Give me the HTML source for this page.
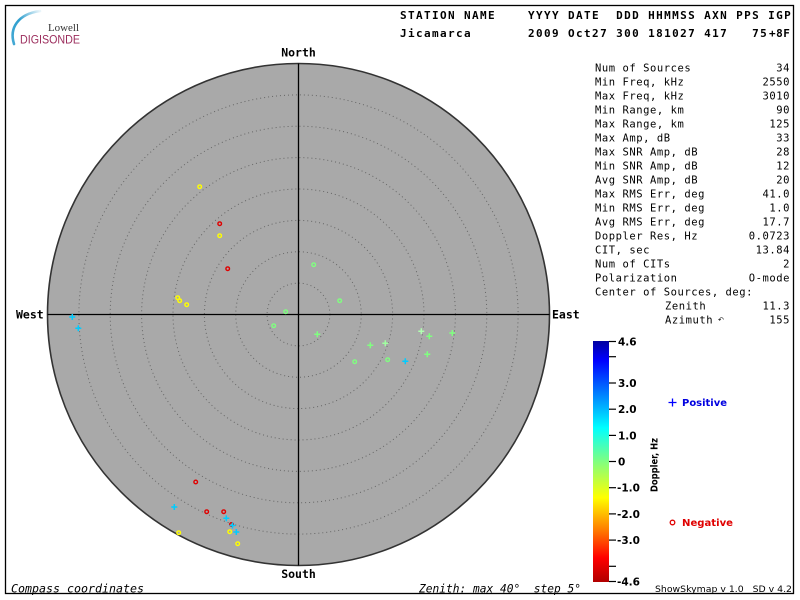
<!DOCTYPE html>
<html>
<head>
<meta charset="utf-8">
<style>
  html,body{margin:0;padding:0;background:#fff;}
  svg{display:block;}
  .hdr{font-family:"DejaVu Sans Mono","Liberation Mono",monospace;font-weight:bold;font-size:11px;letter-spacing:1.38px;fill:#000;}
  .st{font-family:"DejaVu Sans Mono","Liberation Mono",monospace;font-size:10.5px;letter-spacing:0.55px;fill:#000;}
  .cmp{font-family:"DejaVu Sans Mono","Liberation Mono",monospace;font-weight:bold;font-size:11.5px;fill:#000;}
  .it{font-family:"DejaVu Sans Mono","Liberation Mono",monospace;font-style:italic;font-size:11.5px;fill:#000;}
  .tk{font-family:"DejaVu Sans","Liberation Sans",sans-serif;font-weight:bold;font-size:10.5px;fill:#000;}
  .lg{font-family:"DejaVu Sans","Liberation Sans",sans-serif;font-weight:bold;font-size:10px;}
</style>
</head>
<body>
<svg width="800" height="600" viewBox="0 0 800 600" xmlns="http://www.w3.org/2000/svg">
  <defs>
    <linearGradient id="jet" x1="0" y1="0" x2="0" y2="1">
      <stop offset="0" stop-color="#0000a0"/>
      <stop offset="0.08" stop-color="#0000ff"/>
      <stop offset="0.36" stop-color="#00ffff"/>
      <stop offset="0.50" stop-color="#80ff80"/>
      <stop offset="0.65" stop-color="#ffff00"/>
      <stop offset="0.78" stop-color="#ff8000"/>
      <stop offset="0.90" stop-color="#ff0000"/>
      <stop offset="1" stop-color="#b00000"/>
    </linearGradient>
    <linearGradient id="arcg" x1="0" y1="1" x2="1" y2="0">
      <stop offset="0" stop-color="#2f9fcf" stop-opacity="0.9"/>
      <stop offset="0.5" stop-color="#2f9fcf" stop-opacity="1"/>
      <stop offset="1" stop-color="#2f9fcf" stop-opacity="0.1"/>
    </linearGradient>
  </defs>

  <rect x="0" y="0" width="800" height="600" fill="#fff"/>
  <rect x="5.5" y="5.5" width="788" height="588" fill="none" stroke="#000" stroke-width="1.3"/>

  <!-- logo -->
  <path d="M14 44 C 9 28, 18 14, 40 11" fill="none" stroke="url(#arcg)" stroke-width="2.6" stroke-linecap="round"/>
  <text x="48" y="31" font-family="Liberation Serif, serif" font-size="10.5" fill="#333" textLength="31" lengthAdjust="spacingAndGlyphs">Lowell</text>
  <text x="20" y="43.5" font-family="Liberation Sans, sans-serif" font-size="11.5" fill="#9b2c5c" textLength="60" lengthAdjust="spacingAndGlyphs">DIGISONDE</text>

  <!-- header -->
  <text class="hdr" x="400" y="19" xml:space="preserve">STATION NAME    YYYY DATE  DDD HHMMSS AXN PPS IGP</text>
  <text class="hdr" x="400" y="37" xml:space="preserve">Jicamarca       2009 Oct27 300 181027 417   75</text>
  <text class="hdr" x="769" y="37" style="letter-spacing:0.5px">+8F</text>

  <!-- sky map -->
  <circle cx="298.5" cy="314.5" r="251" fill="#a9a9a9" stroke="#333" stroke-width="1.6"/>
  <g fill="none" stroke="#666" stroke-width="1" stroke-dasharray="1 3">
    <circle cx="298.5" cy="314.5" r="31.4"/>
    <circle cx="298.5" cy="314.5" r="62.75"/>
    <circle cx="298.5" cy="314.5" r="94.1"/>
    <circle cx="298.5" cy="314.5" r="125.5"/>
    <circle cx="298.5" cy="314.5" r="156.9"/>
    <circle cx="298.5" cy="314.5" r="188.3"/>
    <circle cx="298.5" cy="314.5" r="219.6"/>
  </g>
  <line x1="298.5" y1="63.5" x2="298.5" y2="565.5" stroke="#000" stroke-width="1.3"/>
  <line x1="47.5" y1="314.5" x2="549.5" y2="314.5" stroke="#000" stroke-width="1.3"/>

  <!-- compass labels -->
  <text class="cmp" x="298.5" y="56.5" text-anchor="middle">North</text>
  <text class="cmp" x="298.5" y="578" text-anchor="middle">South</text>
  <text class="cmp" x="16" y="318.5">West</text>
  <text class="cmp" x="552" y="318.5">East</text>

  <!-- negative doppler (circles) -->
  <g fill="none" stroke-width="1.4">
    <circle cx="199.7" cy="186.7" r="1.8" stroke="#ffff00"/>
    <circle cx="219.7" cy="223.7" r="1.8" stroke="#e00000"/>
    <circle cx="219.7" cy="235.7" r="1.8" stroke="#ffff00"/>
    <circle cx="227.7" cy="268.7" r="1.8" stroke="#e00000"/>
    <circle cx="177.7" cy="297.7" r="1.8" stroke="#ffff00"/>
    <circle cx="179.7" cy="300.7" r="1.8" stroke="#ffff00"/>
    <circle cx="186.7" cy="304.7" r="1.8" stroke="#ffff00"/>
    <circle cx="313.7" cy="264.7" r="1.8" stroke="#80ff80"/>
    <circle cx="339.7" cy="300.7" r="1.8" stroke="#80ff80"/>
    <circle cx="285.7" cy="311.7" r="1.8" stroke="#80ff80"/>
    <circle cx="273.7" cy="325.7" r="1.8" stroke="#80ff80"/>
    <circle cx="354.7" cy="361.7" r="1.8" stroke="#80ff80"/>
    <circle cx="387.7" cy="359.7" r="1.8" stroke="#80ff80"/>
    <circle cx="195.7" cy="482" r="1.8" stroke="#e00000"/>
    <circle cx="206.7" cy="511.7" r="1.8" stroke="#e00000"/>
    <circle cx="223.7" cy="511.7" r="1.8" stroke="#e00000"/>
    <circle cx="231.5" cy="524.5" r="1.8" stroke="#e00000"/>
    <circle cx="229.7" cy="531.7" r="1.8" stroke="#ffff00"/>
    <circle cx="178.7" cy="532.7" r="1.8" stroke="#ffff00"/>
    <circle cx="237.7" cy="543.7" r="1.8" stroke="#ffff00"/>
  </g>

  <!-- positive doppler (pluses) -->
  <g stroke-width="1.5" fill="none">
    <path d="M69.3 317h6M72.3 314v6" stroke="#00ccff"/>
    <path d="M75.3 328.3h6M78.3 325.3v6" stroke="#00ccff"/>
    <path d="M314.3 334.3h6M317.3 331.3v6" stroke="#80ff80"/>
    <path d="M367.3 345.3h6M370.3 342.3v6" stroke="#80ff80"/>
    <path d="M382.3 343.3h6M385.3 340.3v6" stroke="#a0ffa0"/>
    <path d="M418.3 331.3h6M421.3 328.3v6" stroke="#b0ffb0"/>
    <path d="M426.3 336.3h6M429.3 333.3v6" stroke="#80ff80"/>
    <path d="M449.3 333h6M452.3 330v6" stroke="#80ff80"/>
    <path d="M424.3 354.3h6M427.3 351.3v6" stroke="#80ff80"/>
    <path d="M402.3 361.3h6M405.3 358.3v6" stroke="#00ccff"/>
    <path d="M171.3 507h6M174.3 504v6" stroke="#00ccff"/>
    <path d="M223.3 518.3h6M226.3 515.3v6" stroke="#00ccff"/>
    <path d="M229.5 525.5h6M232.5 522.5v6" stroke="#00ccff"/>
    <path d="M233.3 532h6M236.3 529v6" stroke="#00ccff"/>
  </g>

  <!-- stats panel -->
  <g class="st">
    <text x="595" y="71.3">Num of Sources</text><text x="790" y="71.3" text-anchor="end">34</text>
    <text x="595" y="85.3">Min Freq, kHz</text><text x="790" y="85.3" text-anchor="end">2550</text>
    <text x="595" y="99.3">Max Freq, kHz</text><text x="790" y="99.3" text-anchor="end">3010</text>
    <text x="595" y="113.3">Min Range, km</text><text x="790" y="113.3" text-anchor="end">90</text>
    <text x="595" y="127.3">Max Range, km</text><text x="790" y="127.3" text-anchor="end">125</text>
    <text x="595" y="141.3">Max Amp, dB</text><text x="790" y="141.3" text-anchor="end">33</text>
    <text x="595" y="155.3">Max SNR Amp, dB</text><text x="790" y="155.3" text-anchor="end">28</text>
    <text x="595" y="169.3">Min SNR Amp, dB</text><text x="790" y="169.3" text-anchor="end">12</text>
    <text x="595" y="183.3">Avg SNR Amp, dB</text><text x="790" y="183.3" text-anchor="end">20</text>
    <text x="595" y="197.3">Max RMS Err, deg</text><text x="790" y="197.3" text-anchor="end">41.0</text>
    <text x="595" y="211.3">Min RMS Err, deg</text><text x="790" y="211.3" text-anchor="end">1.0</text>
    <text x="595" y="225.3">Avg RMS Err, deg</text><text x="790" y="225.3" text-anchor="end">17.7</text>
    <text x="595" y="239.3">Doppler Res, Hz</text><text x="790" y="239.3" text-anchor="end">0.0723</text>
    <text x="595" y="253.3">CIT, sec</text><text x="790" y="253.3" text-anchor="end">13.84</text>
    <text x="595" y="267.3">Num of CITs</text><text x="790" y="267.3" text-anchor="end">2</text>
    <text x="595" y="281.3">Polarization</text><text x="790" y="281.3" text-anchor="end">O-mode</text>
    <text x="595" y="295.3">Center of Sources, deg:</text>
    <text x="665" y="309.3">Zenith</text><text x="790" y="309.3" text-anchor="end">11.3</text>
    <text x="665" y="323.3">Azimuth</text><text x="790" y="323.3" text-anchor="end">155</text>
  </g>
  <text x="718" y="322" font-family="DejaVu Sans, sans-serif" font-size="7" fill="#000">↶</text>

  <!-- color bar -->
  <rect x="593" y="341" width="16" height="241" fill="url(#jet)"/>
  <g stroke="#000" stroke-width="1.2">
    <line x1="609" y1="341.5" x2="616" y2="341.5"/>
    <line x1="609" y1="356.7" x2="616" y2="356.7"/>
    <line x1="609" y1="383" x2="616" y2="383"/>
    <line x1="609" y1="409.2" x2="616" y2="409.2"/>
    <line x1="609" y1="435.4" x2="616" y2="435.4"/>
    <line x1="609" y1="461.5" x2="616" y2="461.5"/>
    <line x1="609" y1="487.7" x2="616" y2="487.7"/>
    <line x1="609" y1="513.9" x2="616" y2="513.9"/>
    <line x1="609" y1="540.1" x2="616" y2="540.1"/>
    <line x1="609" y1="566.3" x2="616" y2="566.3"/>
    <line x1="609" y1="581.5" x2="616" y2="581.5"/>
  </g>
  <g class="tk">
    <text x="618" y="345.5">4.6</text>
    <text x="618" y="387">3.0</text>
    <text x="618" y="413.2">2.0</text>
    <text x="618" y="439.4">1.0</text>
    <text x="618" y="465.5">0</text>
    <text x="617" y="491.7">-1.0</text>
    <text x="617" y="517.9">-2.0</text>
    <text x="617" y="544.1">-3.0</text>
    <text x="617" y="585.5">-4.6</text>
  </g>
  <text transform="translate(657.5,465) rotate(-90)" text-anchor="middle" font-family="DejaVu Sans, sans-serif" font-weight="bold" font-size="9.5" fill="#000" textLength="54" lengthAdjust="spacingAndGlyphs">Doppler, Hz</text>

  <!-- legend -->
  <path d="M668.5 402.5h8M672.5 398.5v8" stroke="#0000ff" stroke-width="1.3"/>
  <text class="lg" x="682" y="406" fill="#0000e0" textLength="45" lengthAdjust="spacingAndGlyphs">Positive</text>
  <circle cx="672.5" cy="522.5" r="2.3" fill="none" stroke="#e00000" stroke-width="1.3"/>
  <text class="lg" x="682" y="526" fill="#e00000" textLength="51" lengthAdjust="spacingAndGlyphs">Negative</text>

  <!-- footer -->
  <text class="it" x="11" y="592.5" textLength="133" lengthAdjust="spacingAndGlyphs">Compass coordinates</text>
  <text class="it" x="419" y="592.5" xml:space="preserve" textLength="162" lengthAdjust="spacingAndGlyphs">Zenith: max 40°  step 5°</text>
  <text x="655" y="592" font-family="DejaVu Sans, sans-serif" font-size="9" fill="#000" xml:space="preserve" textLength="137" lengthAdjust="spacingAndGlyphs">ShowSkymap v 1.0   SD v 4.2</text>
</svg>
</body>
</html>
